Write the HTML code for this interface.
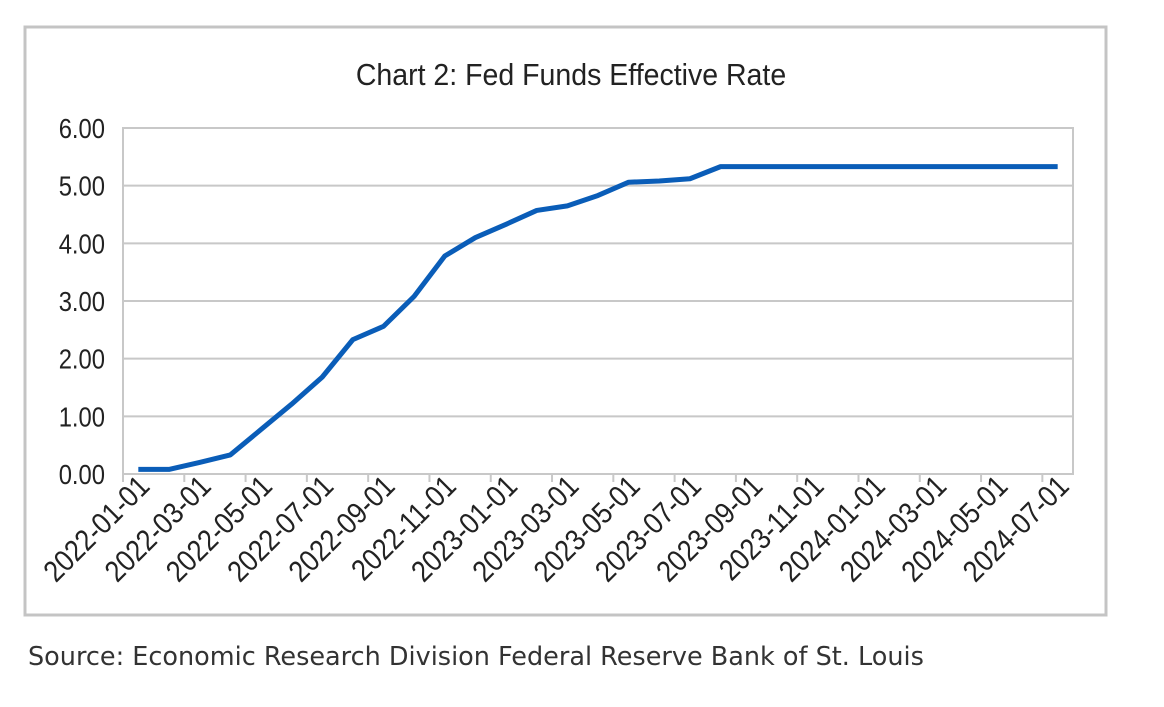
<!DOCTYPE html>
<html><head><meta charset="utf-8"><style>
body{margin:0;background:#fff;width:1164px;height:702px;overflow:hidden;font-family:"Liberation Sans",sans-serif}
svg text{font-family:"Liberation Sans",sans-serif;fill:#222}
</style></head><body>
<svg width="1164" height="702">
<rect x="25" y="27" width="1081" height="588" fill="#fff" stroke="#c4c4c4" stroke-width="3"/>
<text x="0" y="0" text-anchor="middle" font-size="31" transform="translate(571 85) scale(0.92 1)">Chart 2: Fed Funds Effective Rate</text>
<g id="grid"></g><g id="xaxis"></g><g id="yaxis"></g><g id="series"></g>
<text x="28" y="665" font-size="25.5" style="font-family:'DejaVu Sans',sans-serif;fill:#333">Source: Economic Research Division Federal Reserve Bank of St. Louis</text>
</svg>
<script>
const categories=["2022-01-01","2022-02-01","2022-03-01","2022-04-01","2022-05-01","2022-06-01","2022-07-01","2022-08-01","2022-09-01","2022-10-01","2022-11-01","2022-12-01","2023-01-01","2023-02-01","2023-03-01","2023-04-01","2023-05-01","2023-06-01","2023-07-01","2023-08-01","2023-09-01","2023-10-01","2023-11-01","2023-12-01","2024-01-01","2024-02-01","2024-03-01","2024-04-01","2024-05-01","2024-06-01","2024-07-01"];
const rates=[0.08,0.08,0.20,0.33,0.77,1.21,1.68,2.33,2.56,3.08,3.78,4.10,4.33,4.57,4.65,4.83,5.06,5.08,5.12,5.33,5.33,5.33,5.33,5.33,5.33,5.33,5.33,5.33,5.33,5.33,5.33];
const yTicks=[0,1,2,3,4,5,6];
const yTickLabels=["0.00","1.00","2.00","3.00","4.00","5.00","6.00"];
const NS="http://www.w3.org/2000/svg";
const L=123,R=1073,T=128,B=474,yMax=6;
const bw=(R-L)/categories.length;
const xPos=i=>L+bw*(i+0.5);
const yPos=v=>B-(v/yMax)*(B-T);
function mk(tag,attrs,parent){const e=document.createElementNS(NS,tag);for(const k in attrs)e.setAttribute(k,attrs[k]);document.getElementById(parent).appendChild(e);return e;}
yTicks.forEach((v,i)=>{
  const g=mk('line',{x1:L,x2:R,y1:yPos(v),y2:yPos(v),stroke:'#c8c8c8','stroke-width':2},'grid');
  
  
  const t=mk('text',{x:0,y:0,'text-anchor':'end','font-size':28,transform:`translate(${L-18} ${yPos(v)+10}) scale(0.85 1)`},'yaxis');
  t.textContent=yTickLabels[i];
  
  
});
const bx=mk('rect',{x:L,y:T,width:R-L,height:B-T,fill:'none',stroke:'#c8c8c8','stroke-width':2},'grid');


for(let i=0;i<=categories.length;i+=2){
  const x=L+bw*i;
  const tk=mk('line',{x1:x,x2:x,y1:B,y2:B+8,stroke:'#c8c8c8','stroke-width':2},'xaxis');
  
  
}
categories.forEach((c,i)=>{
  if(i%2)return;
  const x=xPos(i)+13,y=488;
  const t=mk('text',{x:0,y:0,'text-anchor':'end','font-size':30,transform:`translate(${x} ${y}) rotate(-45) scale(0.88 1)`},'xaxis');
  t.textContent=c;
  
  
});
const p=mk('polyline',{points:rates.map((v,i)=>xPos(i)+','+yPos(v)).join(' '),fill:'none',stroke:'#0a5db8','stroke-width':5,'stroke-linejoin':'round'},'series');


</script>
</body></html>
